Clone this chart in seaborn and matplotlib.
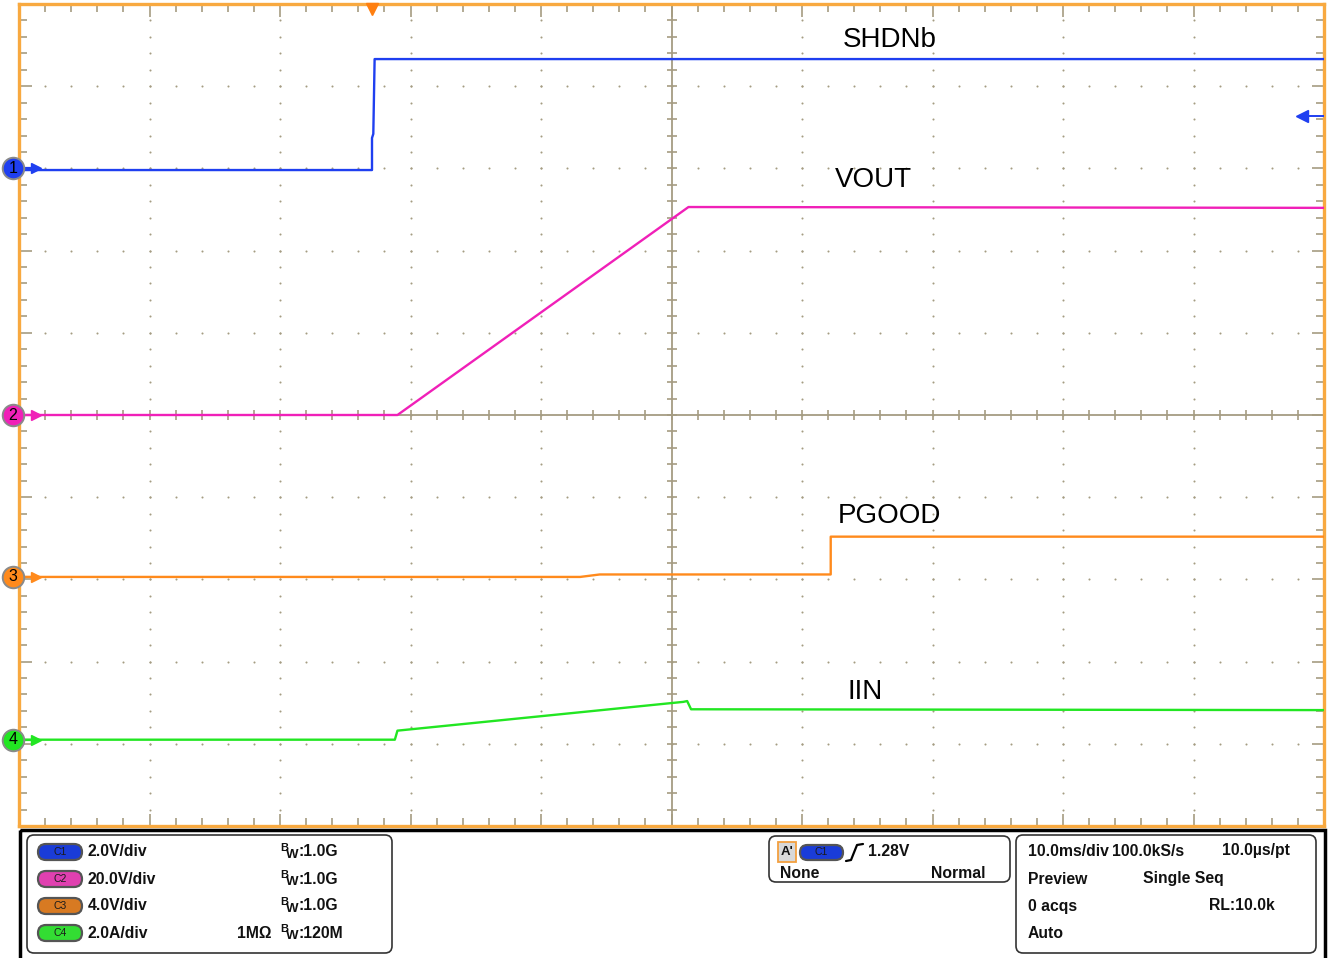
import numpy as np
import pandas as pd
import seaborn as sns
import matplotlib.pyplot as plt
from matplotlib.patches import Rectangle, FancyBboxPatch

# trace data, in screen divisions (x: 0..10, y: -5..5)
shdn_x = [0.0, 2.705, 2.705, 2.715, 2.725, 10.0]
shdn_y = [2.98, 2.98, 3.37, 3.42, 4.33, 4.33]
vout_x = [0.0, 2.90, 5.13, 10.0]
vout_y = [0.0, 0.0, 2.53, 2.52]
pgood_x = [0.0, 4.30, 4.45, 6.22, 6.22, 10.0]
pgood_y = [-1.97, -1.97, -1.94, -1.94, -1.48, -1.48]
iin_x = [0.0, 2.88, 2.90, 5.09, 5.12, 5.15, 10.0]
iin_y = [-3.95, -3.95, -3.84, -3.49, -3.48, -3.58, -3.59]

labels = ["SHDNb", "VOUT", "PGOOD", "IIN"]
label_x = [6.67, 6.55, 6.67, 6.48]
label_y = [4.56, 2.86, -1.23, -3.37]

ch_names = ["1", "2", "3", "4"]
ch_offsets = [3.0, 0.0, -1.97, -3.95]
ch_colors = ["#1f3ff0", "#f020b8", "#ff8a1c", "#22e622"]

trig_pos = 2.705
trig_level = 3.64

scale_text = ["2.0V/div", "20.0V/div", "4.0V/div", "2.0A/div"]
bw_text = [":1.0G", ":1.0G", ":1.0G", ":120M"]
badge_colors = ["#1a3cd8", "#e040b0", "#d87a22", "#33dd33"]

sns.set_style("white")
plt.rcParams["font.family"] = ["Liberation Sans", "DejaVu Sans"]

fig = plt.figure(figsize=(13.33, 9.58), dpi=100)
ax = fig.add_axes([19 / 1333, 1 - 826 / 958, 1305 / 1333, 822 / 958])
ax.set_xlim(0, 10)
ax.set_ylim(-5, 5)

grid_c = "#a59c82"
# dotted graticule
for gx in [1, 2, 3, 4, 6, 7, 8, 9]:
    ys = np.arange(-4.8, 5.0, 0.2)
    ax.scatter(np.full(len(ys), gx), ys, s=2.2, color=grid_c, lw=0, zorder=1)
for gy in [-4, -3, -2, -1, 1, 2, 3, 4]:
    xs = np.arange(0.2, 10.0, 0.2)
    ax.scatter(xs, np.full(len(xs), gy), s=2.2, color=grid_c, lw=0, zorder=1)

# centre cross with ticks
ax.axhline(0, color=grid_c, lw=1.3, zorder=1)
ax.axvline(5, color=grid_c, lw=1.3, zorder=1)
tx = np.arange(0.2, 10.0, 0.2)
ax.plot(tx, np.zeros(len(tx)), ls="none", marker="|", ms=7, mew=1.2, color=grid_c, zorder=1)
ty = np.arange(-4.8, 5.0, 0.2)
ax.plot(np.full(len(ty), 5.0), ty, ls="none", marker="_", ms=7, mew=1.2, color=grid_c, zorder=1)

ax.set_xticks(np.arange(0, 11, 1))
ax.set_yticks(np.arange(-5, 6, 1))
ax.set_xticks(np.arange(0, 10.01, 0.2), minor=True)
ax.set_yticks(np.arange(-5, 5.01, 0.2), minor=True)
ax.tick_params(which="both", direction="in", top=True, right=True, bottom=True, left=True,
               labelbottom=False, labelleft=False, color=grid_c, width=1.2)
ax.tick_params(which="major", length=9)
ax.tick_params(which="minor", length=6)
for s in ax.spines.values():
    s.set_color("#f8a940")
    s.set_linewidth(2.4)

traces = [(shdn_x, shdn_y), (vout_x, vout_y), (pgood_x, pgood_y), (iin_x, iin_y)]
for (xs, ys), c in zip(traces, ch_colors):
    df = pd.DataFrame({"t": xs, "v": ys})
    sns.lineplot(data=df, x="t", y="v", sort=False, estimator=None, color=c, lw=1.7, ax=ax, zorder=3)
ax.set_xlabel("")
ax.set_ylabel("")

for lab, lx, ly in zip(labels, label_x, label_y):
    ax.text(lx, ly, lab, fontsize=20, ha="center", va="center", color="black")

# channel markers at the left edge
for name, off, c in zip(ch_names, ch_offsets, ch_colors):
    ax.plot([-0.03, 0.15], [off, off], color=c, lw=1.6, clip_on=False, zorder=4)
    ax.plot(0.13, off, marker=">", ms=7, color=c, clip_on=False, zorder=4)
    ax.plot(-0.046, off, marker="o", ms=15.5, mfc=c, mec="#8a8a8a", mew=1.4, clip_on=False, zorder=5)
    ax.text(-0.046, off, name, fontsize=11.5, ha="center", va="center", color="black", zorder=6)

# trigger position and level
ax.plot(trig_pos, 4.945, marker="v", ms=9, color="#ff7f10", mec="#ff7f10", clip_on=False, zorder=5)
ax.plot([9.82, 10.0], [trig_level, trig_level], color=ch_colors[0], lw=1.4, zorder=4)
ax.plot(9.83, trig_level, marker="<", ms=8, color=ch_colors[0], zorder=4)

# info panel below the screen, in pixel coordinates
pn = fig.add_axes([0, 0, 1, 132 / 958])
pn.set_xlim(0, 1333)
pn.set_ylim(958, 826)
pn.axis("off")
pn.add_patch(Rectangle((20, 830), 1305, 140, fill=False, ec="black", lw=2.5))
for x0, y0, x1, y1 in [(27, 835, 392, 953), (769, 836, 1010, 882), (1016, 835, 1316, 953)]:
    pn.add_patch(FancyBboxPatch((x0, y0), x1 - x0, y1 - y0, boxstyle="round,pad=0,rounding_size=7",
                                fill=False, ec="#333333", lw=1.2))

fs = 11.3
txt = dict(fontsize=fs, fontweight="bold", va="center", color="#111111")
row_y = [852, 879, 906, 933]
for ry, st, bw, bc, name in zip(row_y, scale_text, bw_text, badge_colors, ch_names):
    pn.add_patch(FancyBboxPatch((38, ry - 8), 44, 16, boxstyle="round,pad=0,rounding_size=8",
                                fc=bc, ec="#555555", lw=1.6))
    pn.text(60, ry, "C" + name, fontsize=7.5, ha="center", va="center", color="#1a1a1a")
    pn.text(88, ry, st, **txt)
    pn.text(280, ry - 4, "B", fontsize=8, fontweight="bold", va="center", color="#111111")
    pn.text(286, ry + 3, "W", fontsize=9.5, fontweight="bold", va="center", color="#111111")
    pn.text(298, ry, bw, **txt)
pn.text(237, 933, "1MΩ", **txt)

pn.add_patch(Rectangle((778, 842), 18, 20, fc="#d8d8d8", ec="#f3a040", lw=1.3))
pn.text(787, 852, "A'", fontsize=9.5, fontweight="bold", ha="center", va="center", color="#111111")
pn.add_patch(FancyBboxPatch((800, 845), 43, 15, boxstyle="round,pad=0,rounding_size=7.5",
                            fc=badge_colors[0], ec="#555555", lw=1.6))
pn.text(821, 852, "C1", fontsize=7.5, ha="center", va="center", color="#1a1a1a")
pn.plot([846, 851, 857, 863], [861, 860, 845, 844], color="black", lw=1.6)
pn.text(868, 851, "1.28V", **txt)
pn.text(780, 873, "None", **txt)
pn.text(985, 873, "Normal", ha="right", **txt)

pn.text(1028, 851, "10.0ms/div", **txt)
pn.text(1112, 851, "100.0kS/s", **txt)
pn.text(1222, 851, "10.0µs/pt", **txt)
pn.text(1028, 879, "Preview", **txt)
pn.text(1143, 879, "Single Seq", **txt)
pn.text(1028, 906, "0 acqs", **txt)
pn.text(1209, 906, "RL:10.0k", **txt)
pn.text(1028, 933, "Auto", **txt)

fig.savefig("out.png", dpi=100)
